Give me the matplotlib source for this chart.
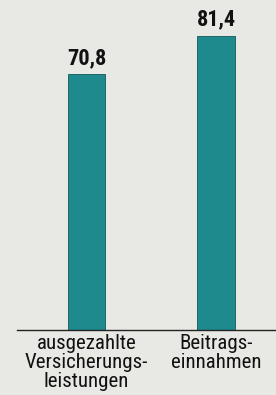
import matplotlib
matplotlib.use("Agg")
import matplotlib.pyplot as plt
from matplotlib import font_manager

categories = ["ausgezahlte\nVersicherungs-\nleistungen", "Beitrags-\neinnahmen"]
values = [70.8, 81.4]
value_labels = ["70,8", "81,4"]

names = {f.name for f in font_manager.fontManager.ttflist}
fam = "DejaVu Sans"
for cand in ["Roboto Condensed", "Liberation Sans Narrow", "Archivo Narrow"]:
    if cand in names:
        fam = cand
        break

bg = "#e8e9e5"
bar_color = "#1e8a8d"

fig = plt.figure(figsize=(2.76, 3.95), dpi=100, facecolor=bg)
ax = fig.add_axes([17/276, 65/395, 259/276, 330/395], facecolor=bg)

x = [0, 1]
ax.bar(x, values, width=0.29, color=bar_color, edgecolor="#14585a", linewidth=0.6, zorder=2)
for xi, v, lab in zip(x, values, value_labels):
    ax.text(xi, v + 2.8, lab, ha="center", va="baseline", fontsize=16,
            fontweight="bold", family=fam, color="#111111")

ax.set_xlim(-0.537, 1.463)
ax.set_ylim(0, 91.3)
for s in ["top", "right", "left"]:
    ax.spines[s].set_visible(False)
ax.spines["bottom"].set_color("#222222")
ax.spines["bottom"].set_linewidth(1.0)
ax.set_yticks([])
ax.set_xticks(x)
ax.set_xticklabels(categories, family=fam, fontsize=15, color="#111111", linespacing=1.0)
ax.tick_params(axis="x", length=0, pad=3)

fig.savefig("out.png", dpi=100, facecolor=bg)
